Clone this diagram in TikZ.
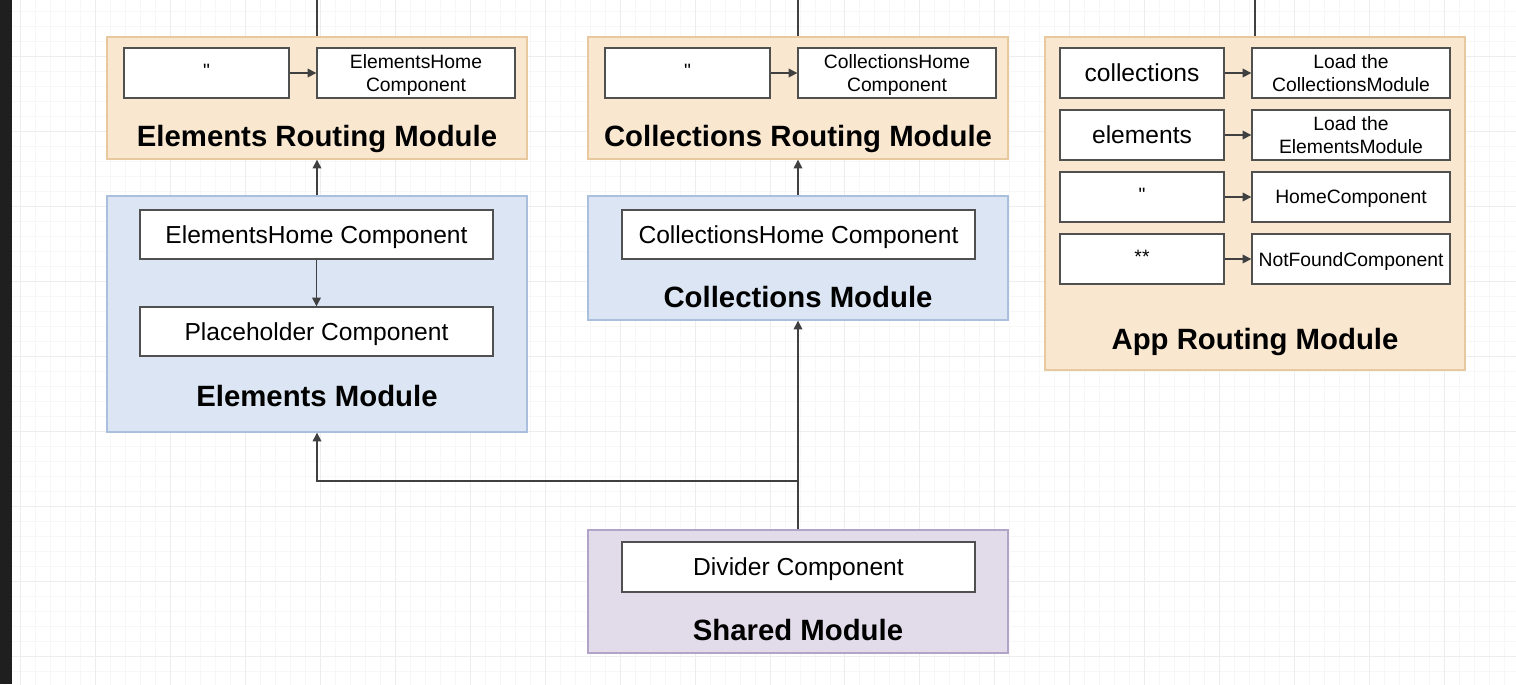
\documentclass[tikz,border=0pt]{standalone}
\usepackage{fontspec}
\setmainfont{Liberation Sans}
\newfontfamily\plainfont{Liberation Sans}
\usepackage{xcolor}
\usepackage{tikz}
\usetikzlibrary{arrows.meta, positioning}
\definecolor{routefill}{RGB}{249,231,208}
\definecolor{routedraw}{RGB}{232,200,158}
\definecolor{modfill}{RGB}{219,229,243}
\definecolor{moddraw}{RGB}{170,191,222}
\definecolor{sharefill}{RGB}{226,219,234}
\definecolor{sharedraw}{RGB}{178,164,200}
\definecolor{boxdraw}{RGB}{80,80,80}
\newcommand{\emptypath}{\raisebox{0.25em}{\plainfont "}}
\tikzset{
  routing/.style={rectangle, draw=routedraw, fill=routefill, line width=0.8pt,
    minimum width=8.4cm},
  module/.style={rectangle, draw=moddraw, fill=modfill, line width=0.8pt,
    minimum width=8.4cm},
  shared/.style={rectangle, draw=sharedraw, fill=sharefill, line width=0.8pt,
    minimum width=8.4cm},
  keybox/.style={rectangle, draw=boxdraw, fill=white, line width=0.8pt,
    minimum width=3.3cm, minimum height=1cm, align=center, text depth=0pt,
    font=\fontsize{11}{12}\selectfont},
  valbox/.style={rectangle, draw=boxdraw, fill=white, line width=0.8pt,
    minimum width=3.96cm, minimum height=1cm, align=center, inner sep=1pt,
    text depth=0pt, font=\fontsize{11}{13}\selectfont},
  compbox/.style={rectangle, draw=boxdraw, fill=white, line width=0.8pt,
    minimum width=7.06cm, minimum height=0.98cm, text depth=0pt,
    font=\fontsize{14}{16}\selectfont},
  title/.style={text depth=0pt, font=\fontsize{16.7}{18}\selectfont\bfseries},
  arrow/.style={-{Triangle[length=5pt,width=5pt]}, line width=0.8pt, draw=black!75},
  wire/.style={line width=0.8pt, draw=black!75}
}

\begin{document}
\begin{tikzpicture}[x=0.02cm, y=-0.02cm]
  \useasboundingbox (0,0) rectangle (1516,684);
  % background grid
  \fill[white] (0,0) rectangle (1516,684);
  \begin{scope}[shift={(20,56)}]
    \draw[black!3, line width=0.4pt, step=0.3cm] (-30,-70) grid (1500,640);
    \draw[black!7, line width=0.4pt, step=1.5cm] (-30,-70) grid (1500,640);
  \end{scope}
  \fill[black!88] (0,0) rectangle (12,684);

  % routing modules
  \node[routing, minimum height=2.44cm] (elroute) at (317,98) {};
  \node[routing, minimum height=2.44cm] (colroute) at (798,98) {};
  \node[routing, minimum height=6.66cm] (approute) at (1255,203.5) {};
  \node[title] (elroutetitle) at (317,136) {Elements Routing Module};
  \node[title] (colroutetitle) at (798,136) {Collections Routing Module};
  \node[title] (approutetitle) at (1255,339) {App Routing Module};

  \node[keybox] (elkey) at (206.5,73) {\emptypath};
  \node[valbox] (elval) at (416,73) {ElementsHome\\Component};
  \node[keybox] (colkey) at (687.5,73) {\emptypath};
  \node[valbox] (colval) at (897,73) {CollectionsHome\\Component};

  \node[keybox, minimum width=3.28cm, font=\fontsize{14}{16}\selectfont] (appkeya) at (1142,73) {collections};
  \node[valbox] (appvala) at (1351,73) {Load the\\CollectionsModule};
  \node[keybox, minimum width=3.28cm, font=\fontsize{14}{16}\selectfont] (appkeyb) at (1142,135) {elements};
  \node[valbox] (appvalb) at (1351,135) {Load the\\ElementsModule};
  \node[keybox, minimum width=3.28cm] (appkeyc) at (1142,197) {\emptypath};
  \node[valbox] (appvalc) at (1351,197) {HomeComponent};
  \node[keybox, minimum width=3.28cm] (appkeyd) at (1142,259) {\raisebox{0.25em}{**}};
  \node[valbox] (appvald) at (1351,259) {NotFoundComponent};

  % feature modules
  \node[module, minimum height=4.72cm] (elmod) at (317,314) {};
  \node[module, minimum height=2.48cm] (colmod) at (798,258) {};
  \node[shared, minimum height=2.46cm] (sharemod) at (798,591.5) {};
  \node[title] (elmodtitle) at (317,396) {Elements Module};
  \node[title] (colmodtitle) at (798,297) {Collections Module};
  \node[title] (sharetitle) at (798,630) {Shared Module};

  \node[compbox] (elhome) at (316.5,234.5) {ElementsHome Component};
  \node[compbox] (placeholder) at (316.5,331.5) {Placeholder Component};
  \node[compbox] (colhome) at (798.5,234.5) {CollectionsHome Component};
  \node[compbox, minimum height=1cm] (divider) at (798.5,567) {Divider Component};

  \coordinate (eltop) at (317,0);
  \coordinate (coltop) at (798,0);
  \coordinate (apptop) at (1255,0);
  \coordinate (split) at (798,481);

  \draw[wire] (eltop) -- (elroute.north);
  \draw[wire] (coltop) -- (colroute.north);
  \draw[wire] (apptop) -- (approute.north);

  \draw[arrow] (elkey) -- (elval);
  \draw[arrow] (colkey) -- (colval);
  \draw[arrow] (appkeya) -- (appvala);
  \draw[arrow] (appkeyb) -- (appvalb);
  \draw[arrow] (appkeyc) -- (appvalc);
  \draw[arrow] (appkeyd) -- (appvald);

  \draw[arrow] (elhome) -- (placeholder);
  \draw[arrow] (elmod.north) -- (elroute.south);
  \draw[arrow] (colmod.north) -- (colroute.south);
  \draw[arrow] (sharemod.north) -- (colmod.south);
  \draw[arrow] (sharemod.north) -- (split) -| (elmod.south);
\end{tikzpicture}
\end{document}
